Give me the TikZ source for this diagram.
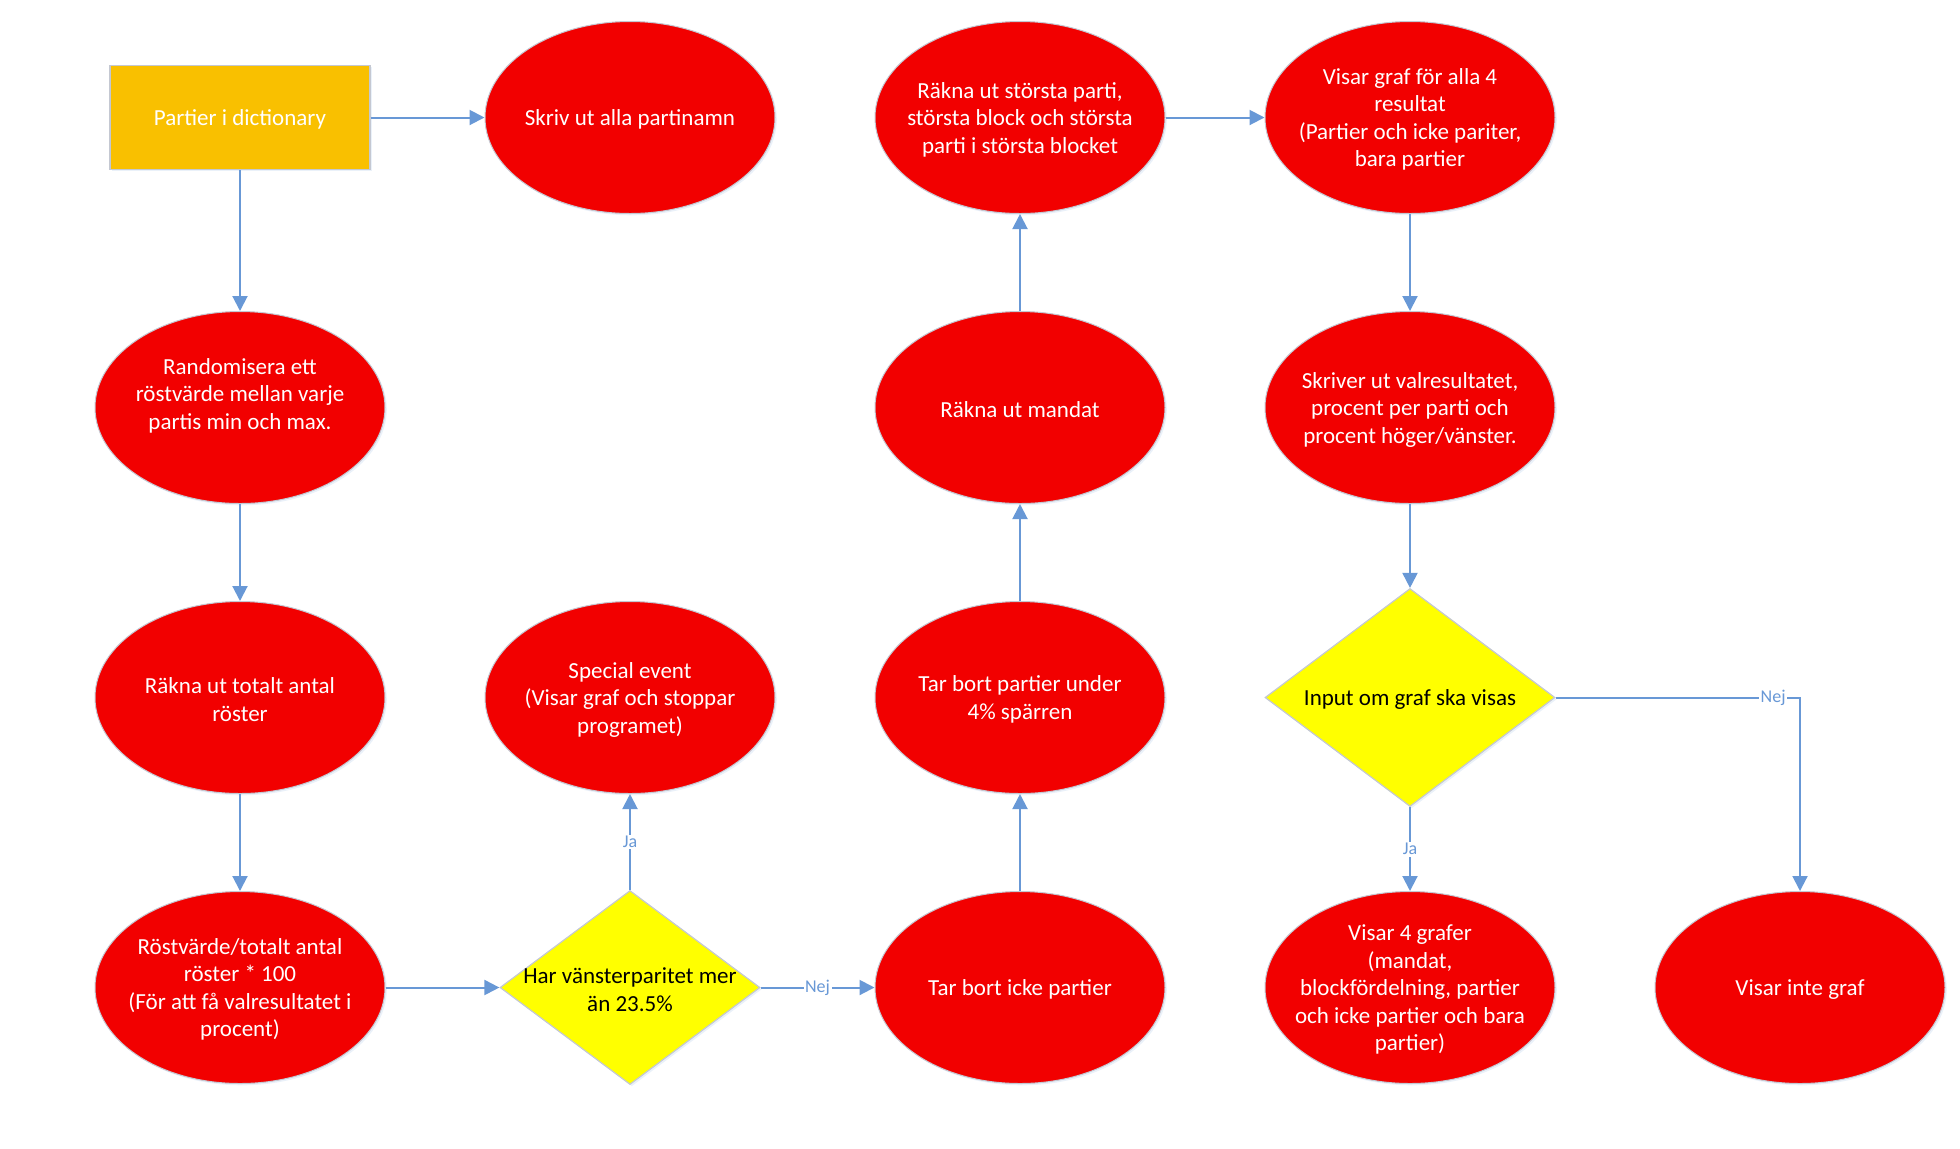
\documentclass[tikz,border=0pt]{standalone}
\usepackage{fontspec}
\setmainfont{Carlito}
\usetikzlibrary{shapes.geometric,arrows.meta,shadows}
\definecolor{procred}{RGB}{242,0,0}
\definecolor{startorange}{RGB}{249,192,0}
\definecolor{decyellow}{RGB}{255,255,0}
\definecolor{linkblue}{RGB}{104,152,214}
\definecolor{rimgrey}{RGB}{196,200,210}
\tikzset{
  softshadow/.style={drop shadow={shadow xshift=0.9pt, shadow yshift=-0.9pt, opacity=0.35, fill=linkblue!40}},
  proc/.style={ellipse, fill=procred, draw=rimgrey, line width=0.5pt,
    minimum width=145pt, minimum height=96pt, inner sep=0pt, softshadow},
  startbox/.style={rectangle, fill=startorange, draw=rimgrey, line width=0.6pt,
    minimum width=130pt, minimum height=52pt, inner sep=0pt, softshadow},
  decision/.style={diamond, fill=decyellow, draw=rimgrey, line width=0.6pt,
    inner sep=0pt, softshadow},
  whitetxt/.style={text=white, align=center, yshift=-1pt, font=\fontsize{11.5}{13.75}\selectfont},
  blacktxt/.style={text=black, align=center, yshift=-1pt, font=\fontsize{11.5}{13.75}\selectfont},
  conn/.style={draw=linkblue, line width=1pt, -{Triangle[length=7.5pt, width=7.5pt]}},
  edgelab/.style={fill=white, text=linkblue, inner sep=0.8pt, font=\fontsize{9}{10}\selectfont},
}
\begin{document}
\begin{tikzpicture}[x=0.5pt, y=-0.5pt]
\useasboundingbox (0,0) rectangle (1960,1148);

% start box
\node[startbox] (start) at (240,117.5) {};
\node[whitetxt] (start-t) at (start) {Partier i dictionary};

% process ellipses
\node[proc] (skriv) at (630,117.5) {};
\node[whitetxt] (skriv-t) at (skriv) {Skriv ut alla partinamn};

\node[proc] (rand) at (240,407.5) {};
\node[whitetxt, yshift=7pt] (rand-t) at (rand) {Randomisera ett\\röstvärde mellan varje\\partis min och max.};

\node[proc] (total) at (240,697.5) {};
\node[whitetxt] (total-t) at (total) {Räkna ut totalt antal\\röster};

\node[proc] (procent) at (240,987.5) {};
\node[whitetxt] (procent-t) at (procent) {Röstvärde/totalt antal\\röster * 100\\(För att få valresultatet i\\procent)};

\node[proc] (special) at (630,697.5) {};
\node[whitetxt] (special-t) at (special) {Special event\\(Visar graf och stoppar\\programet)};

\node[proc] (icke) at (1020,987.5) {};
\node[whitetxt] (icke-t) at (icke) {Tar bort icke partier};

\node[proc] (sparr) at (1020,697.5) {};
\node[whitetxt] (sparr-t) at (sparr) {Tar bort partier under\\4\% spärren};

\node[proc] (mandat) at (1020,407.5) {};
\node[whitetxt] (mandat-t) at (mandat) {Räkna ut mandat};

\node[proc] (storst) at (1020,117.5) {};
\node[whitetxt] (storst-t) at (storst) {Räkna ut största parti,\\största block och största\\parti i största blocket};

\node[proc] (graf4) at (1410,117.5) {};
\node[whitetxt] (graf4-t) at (graf4) {Visar graf för alla 4\\resultat\\(Partier och icke pariter,\\bara partier};

\node[proc] (valres) at (1410,407.5) {};
\node[whitetxt] (valres-t) at (valres) {Skriver ut valresultatet,\\procent per parti och\\procent höger/vänster.};

\node[proc] (visa4) at (1410,987.5) {};
\node[whitetxt] (visa4-t) at (visa4) {Visar 4 grafer\\(mandat,\\blockfördelning, partier\\och icke partier och bara\\partier)};

\node[proc] (inte) at (1800,987.5) {};
\node[whitetxt] (inte-t) at (inte) {Visar inte graf};

% decisions
\node[decision, minimum width=130pt, minimum height=97pt] (vanster) at (630,987.5) {};
\node[blacktxt] (vanster-t) at (vanster) {Har vänsterparitet mer\\än 23.5\%};

\node[decision, minimum width=145pt, minimum height=109pt] (visas) at (1410,697.5) {};
\node[blacktxt] (visas-t) at (visas) {Input om graf ska visas};

% connectors
\draw[conn] (start) -- (skriv);
\draw[conn] (start) -- (rand);
\draw[conn] (rand) -- (total);
\draw[conn] (total) -- (procent);
\draw[conn] (procent) -- (vanster.west);
\draw[conn] (vanster.north) -- node[edgelab] (ja1) {Ja} (special);
\draw[conn] (vanster.east) -- node[edgelab] (nej1) {Nej} (icke);
\draw[conn] (icke) -- (sparr);
\draw[conn] (sparr) -- (mandat);
\draw[conn] (mandat) -- (storst);
\draw[conn] (storst) -- (graf4);
\draw[conn] (graf4) -- (valres);
\draw[conn] (valres) -- (visas.north);
\draw[conn] (visas.south) -- node[edgelab] (ja2) {Ja} (visa4);
\draw[conn] (visas.east) -| node[edgelab, pos=0.445] (nej2) {Nej} (inte.north);
\end{tikzpicture}
\end{document}
